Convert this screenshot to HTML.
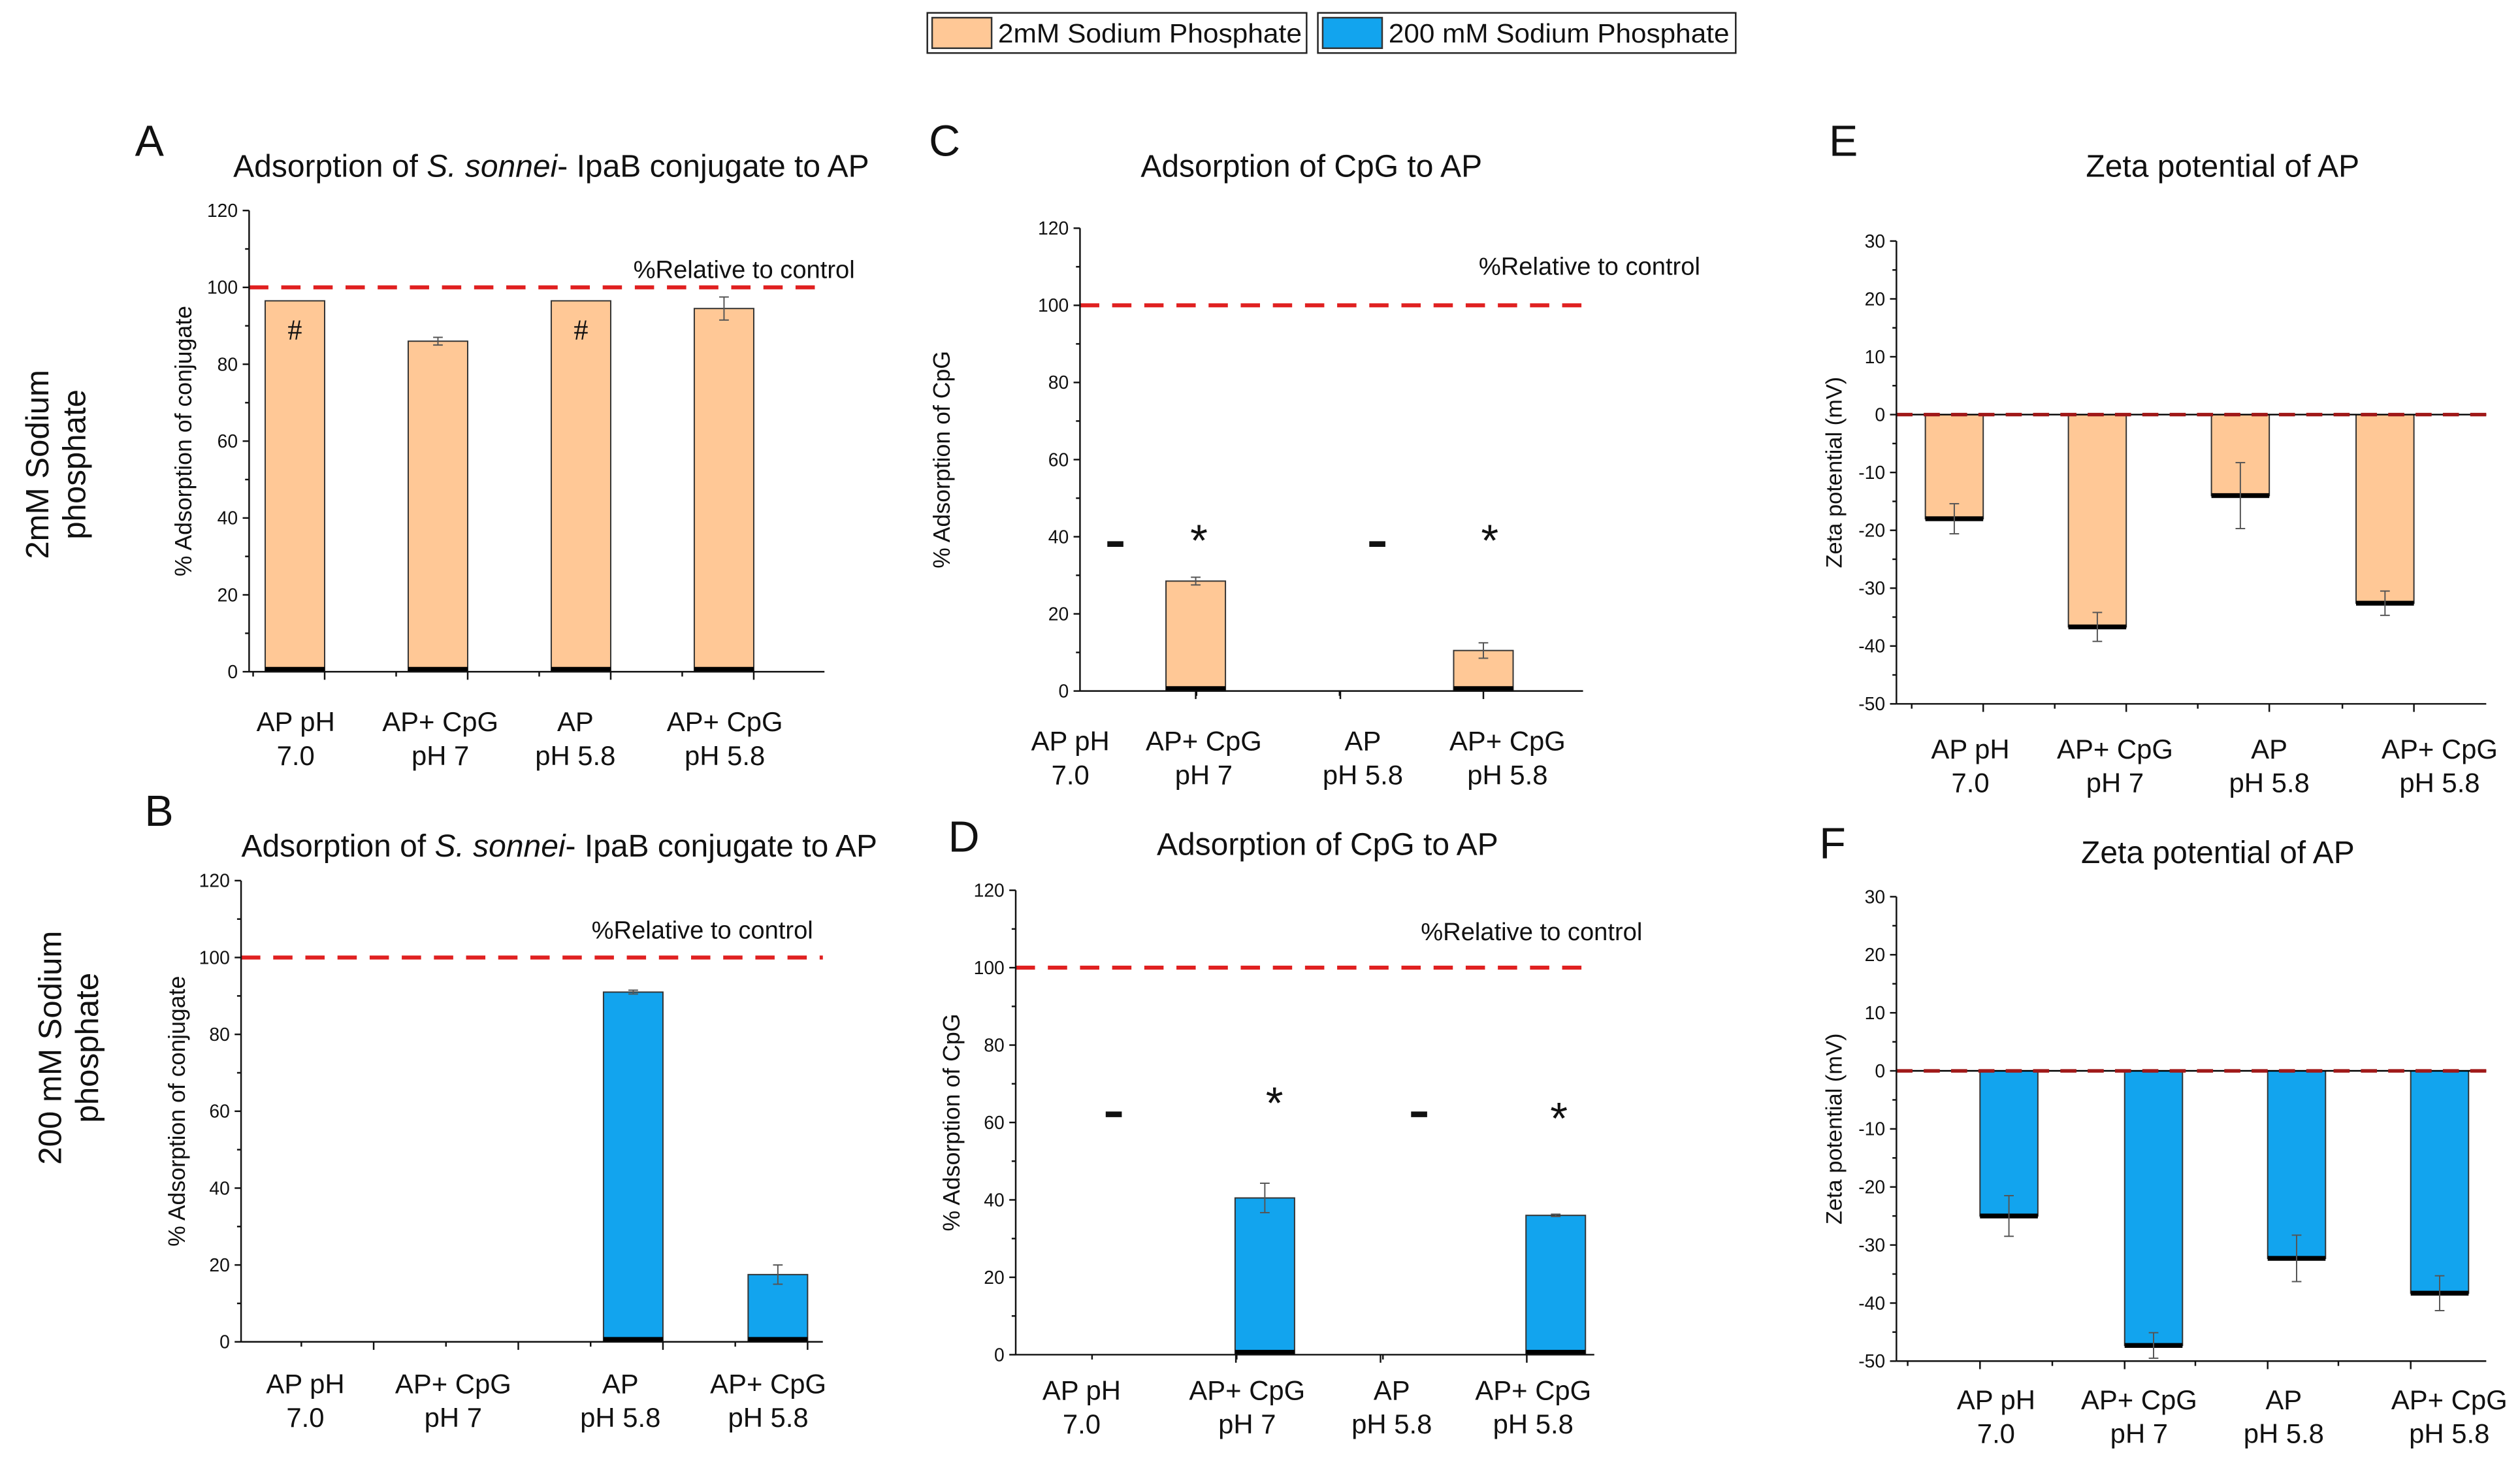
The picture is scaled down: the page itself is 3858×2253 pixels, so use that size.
<!DOCTYPE html>
<html><head><meta charset="utf-8"><style>
html,body{margin:0;padding:0;background:#fff;}
svg{display:block;font-family:"Liberation Sans",Arial,sans-serif;}
</style></head><body>
<svg id="fig" width="3858" height="2253" viewBox="0 0 1568 916" preserveAspectRatio="none" xmlns="http://www.w3.org/2000/svg">
<rect width="1568" height="916" fill="#fff"/>
<g>
  <g>
    <rect x="577" y="8" width="236" height="25" fill="#fff" stroke="#222" stroke-width="1"/>
    <rect x="580" y="11" width="37" height="19" fill="#FFC896" stroke="#333" stroke-width="1"/>
    <text x="621" y="26.5" font-size="16.5" fill="#111" textLength="189" lengthAdjust="spacingAndGlyphs">2mM Sodium Phosphate</text>
  </g>
  <g>
    <rect x="820" y="8" width="260" height="25" fill="#fff" stroke="#222" stroke-width="1"/>
    <rect x="823" y="11" width="37" height="19" fill="#12A4EE" stroke="#333" stroke-width="1"/>
    <text x="864" y="26.5" font-size="16.5" fill="#111" textLength="212" lengthAdjust="spacingAndGlyphs">200 mM Sodium Phosphate</text>
  </g>
</g>
<g font-size="20" fill="#111" text-anchor="middle">
  <text transform="translate(30,289) rotate(-90)">2mM Sodium</text>
  <text transform="translate(53,289) rotate(-90)">phosphate</text>
</g>
<g font-size="20" fill="#111" text-anchor="middle">
  <text transform="translate(38,652) rotate(-90)">200 mM Sodium</text>
  <text transform="translate(61,652) rotate(-90)">phosphate</text>
</g>
</svg>
<script>
// ---- data ----
const categories = [["AP pH","7.0"],["AP+ CpG","pH 7"],["AP","pH 5.8"],["AP+ CpG","pH 5.8"]];
const valuesA = [96.5, 86, 96.5, 94.5];
const errorsA = [0, 1, 0, 3];
const valuesB = [0, 0, 91, 17.5];
const errorsB = [0, 0, 0.5, 2.5];
const valuesC = [0, 28.5, 0, 10.5];
const errorsC = [0, 1, 0, 2];
const valuesD = [0, 40.5, 0, 36];
const errorsD = [0, 3.8, 0, 0.3];
const valuesE = [-18, -36.7, -14, -32.6];
const errorsE = [2.6, 2.5, 5.7, 2.1];
const valuesF = [-25, -47.3, -32.3, -38.3];
const errorsF = [3.5, 2.2, 4, 3];
const marksA = ["#", "", "#", ""];
const marksC = ["-", "*", "-", "*"];
const marksD = ["-", "*", "-", "*"];
const ticksAdsorption = [0, 20, 40, 60, 80, 100, 120];
const ticksZeta = [-50, -40, -30, -20, -10, 0, 10, 20, 30];
const referenceAdsorption = 100;
const referenceZeta = 0;
const markLevelC = [38, 40, 38, 40];
const markLevelD = [62, 66, 62, 62];

const NS = "http://www.w3.org/2000/svg";
const svg = document.getElementById('fig');
function el(tag, attrs, parent, text){
  const e = document.createElementNS(NS, tag);
  for (const k in attrs) e.setAttribute(k, attrs[k]);
  if (text !== undefined) e.textContent = text;
  (parent || svg).appendChild(e);
  return e;
}

function panel(cfg){
  const g = el('g', {});
  
  
  const y = v => cfg.yBot - (v - cfg.min) / (cfg.max - cfg.min) * (cfg.yBot - cfg.yTop);
  const x = i => cfg.centers[i];
  const L = el('text', {x: cfg.letter[0], y: cfg.letter[1], 'font-size': 27, fill: '#111'}, g, cfg.id);
  
  
  const T = el('text', {x: cfg.title[0], y: cfg.title[1], 'font-size': 19.5, fill: '#111', 'text-anchor': 'middle'}, g);
  
  
  cfg.titleParts.forEach(p => { el('tspan', p[1] ? {'font-style':'italic'} : {}, T, p[0]); });
  const YT = el('text', {transform: `translate(${cfg.ylabX},${(cfg.yTop+cfg.yBot)/2}) rotate(-90)`, 'font-size': cfg.zeta ? 14 : 14.5, fill: '#111', 'text-anchor': 'middle'}, g, cfg.ylab);
  
  
  const zeroY = y(cfg.zero);
  cfg.values.forEach((v, i) => {
    if (v === 0) return;
    const top = Math.min(y(v), zeroY), h = Math.abs(y(v) - zeroY);
    const b = el('rect', {x: x(i) - cfg.bw/2, y: top, width: cfg.bw, height: h, fill: cfg.color, stroke: '#333', 'stroke-width': 0.8}, g);
    
    
    const ty = cfg.zeta ? y(v) - 1.5 : zeroY - 3;
    const k = el('rect', {x: x(i) - cfg.bw/2, y: ty, width: cfg.bw, height: 3, fill: '#000'}, g);
    
    
    const e = cfg.errors[i];
    if (e > 0) {
      const eg = el('g', {stroke: '#555', 'stroke-width': 0.8}, g);
      
      
      el('line', {x1: x(i), x2: x(i), y1: y(v+e), y2: y(v-e)}, eg);
      el('line', {x1: x(i)-3, x2: x(i)+3, y1: y(v+e), y2: y(v+e)}, eg);
      el('line', {x1: x(i)-3, x2: x(i)+3, y1: y(v-e), y2: y(v-e)}, eg);
    }
  });
  if (cfg.marks) cfg.marks.forEach((m, i) => {
    if (!m) return;
    const mx = cfg.markX ? cfg.markX[i] : x(i);
    const my = cfg.markLevel ? y(cfg.markLevel[i]) : y(cfg.values[i]) + 24;
    let t;
    if (m === '-') {
      t = el('rect', {x: mx - 5, y: my - 2, width: 10, height: 3.5, fill: '#111'}, g);
    } else {
      t = el('text', {x: mx, y: m === '*' ? my + 12 : my, 'font-size': m === '*' ? 28 : 18, 'font-family': m === '#' ? '"Liberation Serif",serif' : '"Liberation Sans",sans-serif', fill: '#111', 'text-anchor': 'middle'}, g, m);
    }
    
    
  });
  const ry = y(cfg.ref);
  if (cfg.zeta) {
    const zl = el('line', {x1: cfg.x0, x2: cfg.x1, y1: ry, y2: ry, stroke: '#000', 'stroke-width': 1}, g);
    
    
  }
  const rl = el('line', {x1: cfg.x0, x2: cfg.x1, y1: ry, y2: ry, stroke: cfg.zeta ? '#A01818' : '#E02020', 'stroke-width': cfg.zeta ? 2.2 : 2.5, 'stroke-dasharray': cfg.zeta ? '10,7' : '12,8'}, g);
  
  
  if (cfg.refText) {
    const rt = el('text', {x: cfg.refText[0], y: cfg.refText[1], 'font-size': 15.5, fill: '#111', 'text-anchor': 'middle'}, g, '%Relative to control');
    
    
  }
  const ax = el('g', {stroke: '#111', 'stroke-width': 1}, g);
  
  
  el('line', {x1: cfg.x0, x2: cfg.x0, y1: cfg.yTop, y2: cfg.yBot}, ax);
  el('line', {x1: cfg.x0, x2: cfg.x1, y1: cfg.yBot, y2: cfg.yBot}, ax);
  cfg.ticks.forEach((t, i) => {
    el('line', {x1: cfg.x0 - 4, x2: cfg.x0, y1: y(t), y2: y(t)}, ax);
    if (i < cfg.ticks.length - 1) {
      const m = (t + cfg.ticks[i+1]) / 2;
      el('line', {x1: cfg.x0 - 2.5, x2: cfg.x0, y1: y(m), y2: y(m)}, ax);
    }
    const tl = el('text', {x: cfg.x0 - 7, y: y(t) + 4, 'font-size': 11.5, fill: '#111', stroke: 'none', 'text-anchor': 'end'}, g, String(t));
    
    
  });
  const sp = cfg.centers[1] - cfg.centers[0];
  cfg.centers.forEach((c, i) => {
    const tx = c + cfg.tickOff;
    if (tx > cfg.x0 && tx <= cfg.x1) el('line', {x1: tx, x2: tx, y1: cfg.yBot, y2: cfg.yBot + 5}, ax);
    const mx = tx - sp/2;
    if (mx > cfg.x0 && mx <= cfg.x1) el('line', {x1: mx, x2: mx, y1: cfg.yBot, y2: cfg.yBot + 3}, ax);
  });
  categories.forEach((c, i) => {
    const t = el('text', {x: cfg.labelX[i], y: cfg.yBot + cfg.labDy, 'font-size': 17, fill: '#111', 'text-anchor': 'middle'}, g);
    
    
    el('tspan', {x: cfg.labelX[i], dy: 0}, t, c[0]);
    el('tspan', {x: cfg.labelX[i], dy: 21}, t, c[1]);
  });
}

const titleIpaB = [["Adsorption of ", false], ["S. sonnei", true], ["- IpaB conjugate to AP", false]];
const titleCpG = [["Adsorption of CpG to AP", false]];
const titleZeta = [["Zeta potential of AP", false]];
const peach = '#FFC896', blue = '#12A4EE';

panel({id:'A', letter:[84,97], title:[343,110], titleParts:titleIpaB, ylab:'% Adsorption of conjugate', ylabX:119,
  x0:155, x1:513, yTop:131, yBot:418, min:0, max:120, ticks:ticksAdsorption, ref:referenceAdsorption, zero:0,
  values:valuesA, errors:errorsA, marks:marksA, centers:[183.5,272.5,361.5,450.5], bw:37, tickOff:18.5,
  labelX:[184,274,358,451], labDy:37, color:peach, refText:[463,173]});
panel({id:'B', letter:[90,514], title:[348,533], titleParts:titleIpaB, ylab:'% Adsorption of conjugate', ylabX:115,
  x0:150, x1:512, yTop:548, yBot:835, min:0, max:120, ticks:ticksAdsorption, ref:referenceAdsorption, zero:0,
  values:valuesB, errors:errorsB, centers:[214,304,394,484], bw:37, tickOff:18.5,
  labelX:[190,282,386,478], labDy:32, color:blue, refText:[437,584]});
panel({id:'C', letter:[578,97], title:[816,110], titleParts:titleCpG, ylab:'% Adsorption of CpG', ylabX:591,
  x0:672, x1:985, yTop:142, yBot:430, min:0, max:120, ticks:ticksAdsorption, ref:referenceAdsorption, zero:0,
  values:valuesC, errors:errorsC, marks:marksC, markX:[694,746,857,927], markLevel:markLevelC,
  centers:[565,744,834,923], bw:37, tickOff:0,
  labelX:[666,749,848,938], labDy:37, color:peach, refText:[989,171]});
panel({id:'D', letter:[590,530], title:[826,532], titleParts:titleCpG, ylab:'% Adsorption of CpG', ylabX:597,
  x0:632, x1:992, yTop:554, yBot:843, min:0, max:120, ticks:ticksAdsorption, ref:referenceAdsorption, zero:0,
  values:valuesD, errors:errorsD, marks:marksD, markX:[693,793,883,970], markLevel:markLevelD,
  centers:[608,787,877,968], bw:37, tickOff:-18,
  labelX:[673,776,866,954], labDy:28, color:blue, refText:[953,585]});
panel({id:'E', letter:[1138,97], title:[1383,110], titleParts:titleZeta, ylab:'Zeta potential (mV)', ylabX:1146,
  x0:1180, x1:1547, yTop:150, yBot:438, min:-50, max:30, ticks:ticksZeta, ref:referenceZeta, zero:0, zeta:true,
  values:valuesE, errors:errorsE, centers:[1216,1305,1394,1484], bw:36, tickOff:18,
  labelX:[1226,1316,1412,1518], labDy:34, color:peach});
panel({id:'F', letter:[1132,534], title:[1380,537], titleParts:titleZeta, ylab:'Zeta potential (mV)', ylabX:1146,
  x0:1180, x1:1547, yTop:558, yBot:847, min:-50, max:30, ticks:ticksZeta, ref:referenceZeta, zero:0, zeta:true,
  values:valuesF, errors:errorsF, centers:[1250,1340,1429,1518], bw:36, tickOff:-18,
  labelX:[1242,1331,1421,1524], labDy:30, color:blue});
</script>
</body></html>
